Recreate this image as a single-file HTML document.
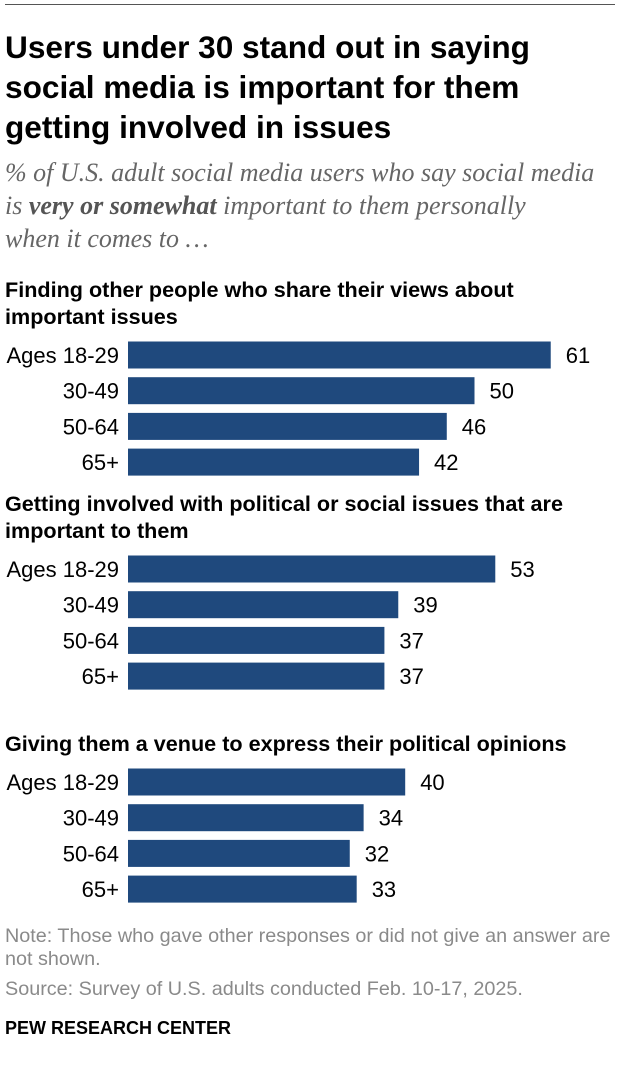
<!DOCTYPE html>
<html><head><meta charset="utf-8">
<style>
body{margin:0;width:620px;height:1080px;background:#fff;position:relative;overflow:hidden;font-family:"Liberation Sans",sans-serif}
.t{position:absolute;white-space:nowrap}
#title{left:5px;top:27px;font-weight:bold;font-size:31.6px;line-height:40px;color:#000}
#sub{left:5px;top:156px;font-family:"Liberation Serif",serif;font-style:italic;font-size:26px;line-height:33px;color:#666}
#sub b{color:#555}
.gt{left:5px;font-weight:bold;font-size:21.6px;line-height:27px;color:#000}
.foot{left:5px;font-size:19.8px;line-height:23px;color:#8a8a8a}
</style></head><body>
<div style="position:absolute;left:5px;right:5px;top:4px;height:1px;background:#555"></div>
<div id="title" class="t">Users under 30 stand out in saying<br>social media is important for them<br>getting involved in issues</div>
<div id="sub" class="t">% of U.S. adult social media users who say social media<br>is <b>very or somewhat</b> important to them personally<br>when it comes to …</div>
<svg id="chart" width="620" height="1080" style="position:absolute;left:0;top:0"></svg>
<div class="t foot" style="top:925px">Note: Those who gave other responses or did not give an answer are<br>not shown.</div>
<div class="t foot" style="top:978px">Source: Survey of U.S. adults conducted Feb. 10-17, 2025.</div>
<div class="t" style="left:5px;top:1018px;font-weight:bold;font-size:18px;color:#000">PEW RESEARCH CENTER</div>
<script>
const groupTitles=[["Finding other people who share their views about","important issues"],["Getting involved with political or social issues that are","important to them"],["Giving them a venue to express their political opinions"]];
const categories=["Ages 18-29","30-49","50-64","65+"];
const values1=[61,50,46,42];
const values2=[53,39,37,37];
const values3=[40,34,32,33];
const series=[values1,values2,values3];
const x0=128,pxPer=6.93;
const xs=v=>x0+v*pxPer;
const groupTop=[355,569,782];
const rowStep=35.7,barH=27;
const titleTop=[276,490,730];
const svg=document.getElementById('chart');
const NS='http://www.w3.org/2000/svg';
series.forEach((vals,g)=>{
  const d=document.createElement('div');
  d.className='t gt';
  d.style.top=titleTop[g]+'px';
  d.innerHTML=groupTitles[g].join('<br>');
  
  
  document.body.appendChild(d);
  vals.forEach((v,i)=>{
    const cy=groupTop[g]+i*rowStep;
    const r=document.createElementNS(NS,'rect');
    r.setAttribute('x',x0);r.setAttribute('y',cy-barH/2);
    r.setAttribute('width',xs(v)-x0);r.setAttribute('height',barH);
    r.setAttribute('fill','#1f497d');
    
    
    svg.appendChild(r);
    const l=document.createElementNS(NS,'text');
    l.setAttribute('x',119);l.setAttribute('y',cy+8);
    l.setAttribute('text-anchor','end');l.setAttribute('font-size','22');
    l.setAttribute('font-family','Liberation Sans, sans-serif');
    l.setAttribute('fill','#000');l.textContent=categories[i];
    
    
    svg.appendChild(l);
    const t=document.createElementNS(NS,'text');
    t.setAttribute('x',xs(v)+15);t.setAttribute('y',cy+8);
    t.setAttribute('font-size','22');
    t.setAttribute('font-family','Liberation Sans, sans-serif');
    t.setAttribute('fill','#000');t.textContent=v;
    
    
    svg.appendChild(t);
  });
});
</script>
</body></html>
